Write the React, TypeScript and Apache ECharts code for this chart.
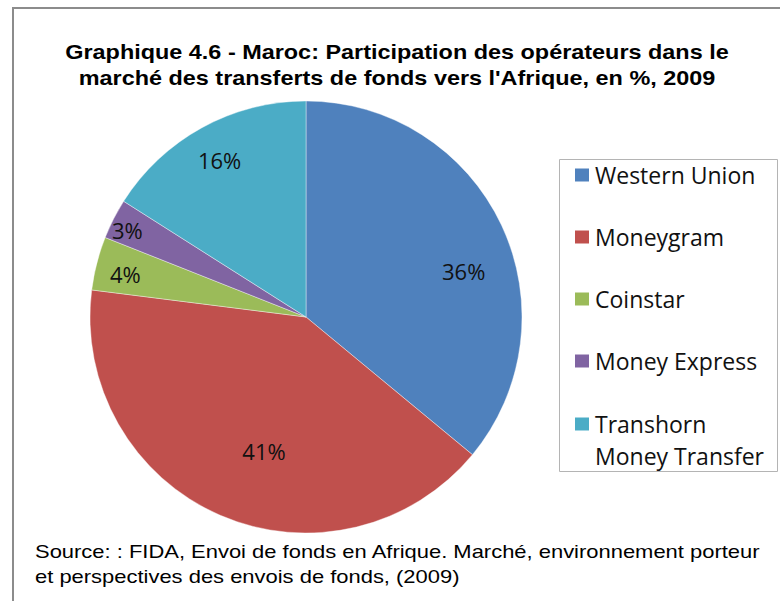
import React, { useEffect, useRef } from 'react';
import * as echarts from 'echarts';

const categories = ['Western Union', 'Moneygram', 'Coinstar', 'Money Express', 'Transhorn Money Transfer'];
const shares = [36, 41, 4, 3, 16];
const colors = ['#4F81BD', '#C0504D', '#9BBB59', '#8064A2', '#4BACC6'];
const titleLines = [
  'Graphique 4.6 - Maroc: Participation des opérateurs dans le',
  "marché des transferts de fonds vers l'Afrique, en %, 2009",
];
const sourceLines = [
  'Source: : FIDA, Envoi de fonds en Afrique. Marché, environnement porteur',
  'et perspectives des envois de fonds, (2009)',
];

const CX = 306;
const CY = 317;
const R = 216;
const labelRadius = [0.76, 0.65, 0.86, 0.92, 0.83];
const labelAngleShift = [-9, 6, 1, 1, 0];
const LEGEND_FONT = '"Open Sans", "Noto Sans", sans-serif';

export default function App() {
  const ref = useRef<HTMLDivElement>(null);
  useEffect(() => {
    document.body.style.margin = '0';
    if (!ref.current) return;
    const chart = echarts.init(ref.current, undefined, { renderer: 'svg' });
    const total = shares.reduce((a, b) => a + b, 0);
    const mids: number[] = [];
    let cum = 0;
    shares.forEach((v) => {
      const span = (v / total) * 360;
      mids.push(90 - cum - span / 2);
      cum += span;
    });
    chart.setOption({
      animation: false,
      backgroundColor: '#fff',
      graphic: [
        {
          type: 'rect',
          z: -10,
          shape: { x: 13, y: 8, width: 900, height: 800 },
          style: { fill: 'none', stroke: '#8c8c8c', lineWidth: 2 },
        },
        {
          type: 'rect',
          shape: { x: 559.5, y: 159.5, width: 218, height: 312 },
          style: { fill: 'none', stroke: '#b4b4b4', lineWidth: 1 },
        },
        ...titleLines.map((t, i) => ({
          type: 'text',
          x: 397,
          y: 52 + i * 26,
          scaleX: 1.115,
          style: {
            text: t,
            textAlign: 'center',
            textVerticalAlign: 'middle',
            fontFamily: '"Liberation Sans", Arial, sans-serif',
            fontWeight: 'bold',
            fontSize: 21,
            fill: '#000',
          },
        })),
        ...sourceLines.map((t, i) => ({
          type: 'text',
          x: 35,
          y: 552 + i * 25,
          scaleX: 1.22,
          style: {
            text: t,
            textAlign: 'left',
            textVerticalAlign: 'middle',
            fontFamily: '"Liberation Sans", Arial, sans-serif',
            fontSize: 18,
            fill: '#000',
          },
        })),
      ],
      legend: [
        {
          orient: 'vertical',
          left: 573,
          top: 162,
          padding: 0,
          itemWidth: 16,
          itemHeight: 15,
          itemGap: 36,
          icon: 'rect',
          selectedMode: false,
          data: categories.slice(0, 4),
          textStyle: { fontFamily: LEGEND_FONT, fontSize: 23, lineHeight: 26, color: '#111' },
        },
        {
          orient: 'vertical',
          left: 573,
          top: 376,
          padding: 0,
          itemWidth: 16,
          itemHeight: 15,
          icon: 'rect',
          selectedMode: false,
          data: categories.slice(4),
          formatter: (name: string) => ' \n' + name.replace('Transhorn ', 'Transhorn\n'),
          textStyle: {
            fontFamily: LEGEND_FONT,
            fontSize: 23,
            lineHeight: 32,
            color: '#111',
          },
        },
      ],
      series: [
        {
          type: 'pie',
          center: [CX, CY],
          radius: [0, R],
          startAngle: 90,
          clockwise: true,
          avoidLabelOverlap: false,
          color: colors,
          itemStyle: { borderColor: '#fff', borderWidth: 0.4 },
          label: {
            show: true,
            position: 'inside',
            formatter: '{c}%',
            fontFamily: LEGEND_FONT,
            fontSize: 22,
            color: '#111',
          },
          labelLine: { show: false },
          labelLayout: (params: any) => {
            const i = params.dataIndex;
            const a = ((mids[i] + labelAngleShift[i]) * Math.PI) / 180;
            const r = R * labelRadius[i];
            return {
              x: CX + r * Math.cos(a),
              y: CY - r * Math.sin(a),
              align: 'center',
              verticalAlign: 'middle',
            };
          },
          emphasis: { disabled: true },
          data: categories.map((name, i) => ({ name, value: shares[i] })),
        },
      ],
    });
    return () => chart.dispose();
  }, []);
  return <div ref={ref} style={{ width: 780, height: 601 }} />;
}
